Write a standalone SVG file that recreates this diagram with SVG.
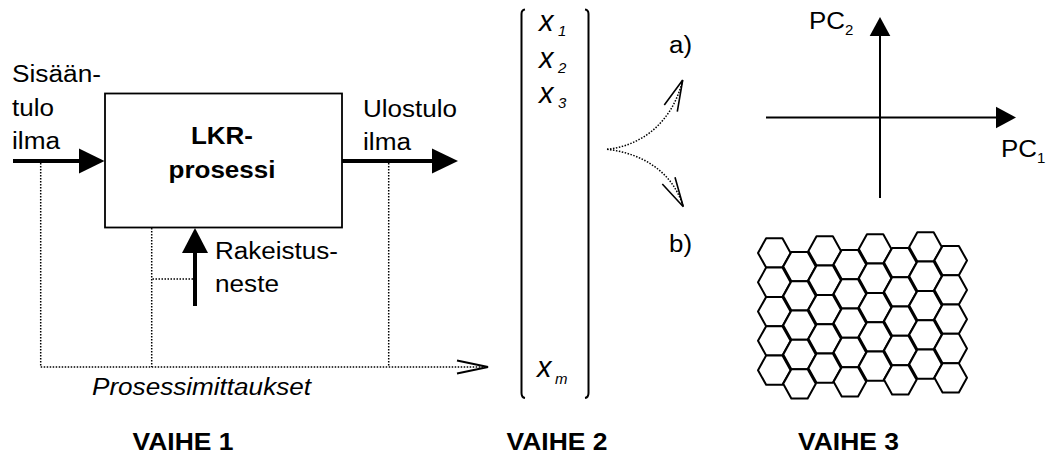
<svg xmlns="http://www.w3.org/2000/svg" xmlns:xlink="http://www.w3.org/1999/xlink" width="1046" height="459" viewBox="0 0 1046 459">
  <style>
    text { font-family: "Liberation Sans", Arial, sans-serif; fill: #000; }
    .lbl { font-size: 23px; }
    .bold { font-size: 23px; font-weight: bold; }
    .ital { font-style: italic; }
    .var { font-size: 29px; font-style: italic; }
    .sub { font-size: 15px; }
    .thick { stroke: #000; stroke-width: 4; fill: none; }
    .thin { stroke: #000; stroke-width: 2; fill: none; }
    .dot { stroke: #000; stroke-width: 1.5; fill: none; stroke-dasharray: 1.5 1.5; }
    .head { fill: #000; stroke: none; }
    .hex { fill: #fff; stroke: #000; stroke-width: 2; stroke-linejoin: round; }
  </style>
  <defs>
    <polygon id="hex" class="hex" points="-16.3,0 -8.15,-14.65 8.15,-14.65 16.3,0 8.15,14.65 -8.15,14.65"/>
  </defs>
  <rect width="1046" height="459" fill="#fff"/>

  <!-- process block -->
  <g id="lkr-process">
    <rect x="105" y="93.5" width="237" height="134" class="thin" style="stroke-width:1.8"/>
    <text class="bold" x="222" y="144" text-anchor="middle" textLength="62" lengthAdjust="spacingAndGlyphs">LKR-</text>
    <text class="bold" x="222" y="178" text-anchor="middle" textLength="107" lengthAdjust="spacingAndGlyphs">prosessi</text>
  </g>

  <!-- inlet air -->
  <g id="inlet">
    <text class="lbl" x="12" y="82" textLength="89" lengthAdjust="spacingAndGlyphs">Sisään-</text>
    <text class="lbl" x="12" y="115.5" textLength="42" lengthAdjust="spacingAndGlyphs">tulo</text>
    <text class="lbl" x="12" y="149" textLength="48" lengthAdjust="spacingAndGlyphs">ilma</text>
  </g>

  <!-- outlet air -->
  <g id="outlet">
    <text class="lbl" x="363" y="116.5" textLength="94" lengthAdjust="spacingAndGlyphs">Ulostulo</text>
    <text class="lbl" x="363" y="149.5" textLength="48" lengthAdjust="spacingAndGlyphs">ilma</text>
  </g>

  <!-- granulation liquid -->
  <g id="liquid">
    <text class="lbl" x="215" y="258.5" textLength="123" lengthAdjust="spacingAndGlyphs">Rakeistus-</text>
    <text class="lbl" x="215" y="291.5" textLength="64" lengthAdjust="spacingAndGlyphs">neste</text>
  </g>

  <!-- measurement caption -->
  <g id="measurements">
    <text class="lbl ital" x="92" y="395" textLength="219" lengthAdjust="spacingAndGlyphs">Prosessimittaukset</text>
  </g>

  <!-- data vector -->
  <g id="vector">
    <path class="thin" d="M525,9.5 Q521.5,10 521.5,14 V393 Q521.5,397.5 525,398"/>
    <path class="thin" d="M585,9.5 Q588.5,10 588.5,14 V393 Q588.5,397.5 585,398"/>
    <text class="var" x="539" y="31">x</text>
    <text class="ital sub" x="558" y="36">1</text>
    <text class="var" x="539" y="68">x</text>
    <text class="ital sub" x="558" y="73">2</text>
    <text class="var" x="539" y="103">x</text>
    <text class="ital sub" x="558" y="108">3</text>
    <text class="var" x="537" y="377">x</text>
    <text class="ital sub" x="555" y="384">m</text>
  </g>

  <!-- method options -->
  <g id="options">
    <text class="lbl" x="669" y="53" textLength="23" lengthAdjust="spacingAndGlyphs">a)</text>
    <text class="lbl" x="669" y="252" textLength="23" lengthAdjust="spacingAndGlyphs">b)</text>
  </g>

  <!-- principal component axes -->
  <g id="pca">
    <line class="thin" x1="880" y1="198" x2="880" y2="34"/>
    <polygon class="head" points="880,17 869.7,36 890.3,36"/>
    <line class="thin" x1="766" y1="117.5" x2="998" y2="117.5"/>
    <polygon class="head" points="1016,117.5 996,106.7 996,128.3"/>
    <text class="lbl" x="809" y="29" textLength="36" lengthAdjust="spacingAndGlyphs">PC</text>
    <text class="sub" x="845" y="35">2</text>
    <text class="lbl" x="1001" y="157" textLength="36" lengthAdjust="spacingAndGlyphs">PC</text>
    <text class="sub" x="1037" y="163">1</text>
  </g>

  <!-- self-organising map grid -->
  <g id="som">
    <use xlink:href="#hex" x="774.3" y="252.95"/>
    <use xlink:href="#hex" x="774.3" y="282.25"/>
    <use xlink:href="#hex" x="774.3" y="311.55"/>
    <use xlink:href="#hex" x="774.3" y="340.85"/>
    <use xlink:href="#hex" x="774.3" y="370.15"/>
    <use xlink:href="#hex" x="799.5" y="266.6"/>
    <use xlink:href="#hex" x="799.5" y="295.9"/>
    <use xlink:href="#hex" x="799.5" y="325.2"/>
    <use xlink:href="#hex" x="799.5" y="354.5"/>
    <use xlink:href="#hex" x="799.5" y="383.8"/>
    <use xlink:href="#hex" x="824.7" y="250.95"/>
    <use xlink:href="#hex" x="824.7" y="280.25"/>
    <use xlink:href="#hex" x="824.7" y="309.55"/>
    <use xlink:href="#hex" x="824.7" y="338.85"/>
    <use xlink:href="#hex" x="824.7" y="368.15"/>
    <use xlink:href="#hex" x="849.9" y="264.6"/>
    <use xlink:href="#hex" x="849.9" y="293.9"/>
    <use xlink:href="#hex" x="849.9" y="323.2"/>
    <use xlink:href="#hex" x="849.9" y="352.5"/>
    <use xlink:href="#hex" x="849.9" y="381.8"/>
    <use xlink:href="#hex" x="875.1" y="248.95"/>
    <use xlink:href="#hex" x="875.1" y="278.25"/>
    <use xlink:href="#hex" x="875.1" y="307.55"/>
    <use xlink:href="#hex" x="875.1" y="336.85"/>
    <use xlink:href="#hex" x="875.1" y="366.15"/>
    <use xlink:href="#hex" x="900.3" y="262.6"/>
    <use xlink:href="#hex" x="900.3" y="291.9"/>
    <use xlink:href="#hex" x="900.3" y="321.2"/>
    <use xlink:href="#hex" x="900.3" y="350.5"/>
    <use xlink:href="#hex" x="900.3" y="379.8"/>
    <use xlink:href="#hex" x="925.5" y="246.95"/>
    <use xlink:href="#hex" x="925.5" y="276.25"/>
    <use xlink:href="#hex" x="925.5" y="305.55"/>
    <use xlink:href="#hex" x="925.5" y="334.85"/>
    <use xlink:href="#hex" x="925.5" y="364.15"/>
    <use xlink:href="#hex" x="950.7" y="260.6"/>
    <use xlink:href="#hex" x="950.7" y="289.9"/>
    <use xlink:href="#hex" x="950.7" y="319.2"/>
    <use xlink:href="#hex" x="950.7" y="348.5"/>
    <use xlink:href="#hex" x="950.7" y="377.8"/>
  </g>

  <!-- phase captions -->
  <g id="phases">
    <text class="bold" x="183" y="450" text-anchor="middle" textLength="101" lengthAdjust="spacingAndGlyphs">VAIHE 1</text>
    <text class="bold" x="557" y="450" text-anchor="middle" textLength="101" lengthAdjust="spacingAndGlyphs">VAIHE 2</text>
    <text class="bold" x="848.5" y="450" text-anchor="middle" textLength="101" lengthAdjust="spacingAndGlyphs">VAIHE 3</text>
  </g>

  <!-- connectors -->
  <g id="connectors">
    <!-- material flows -->
    <line class="thick" x1="13" y1="161" x2="81" y2="161"/>
    <polygon class="head" points="104.5,161 79,148.5 79,173.5"/>
    <line class="thick" x1="342" y1="161" x2="434" y2="161"/>
    <polygon class="head" points="458,161 432,148.5 432,173.5"/>
    <line class="thick" x1="195" y1="306" x2="195" y2="250"/>
    <polygon class="head" points="195,228 182,253 208,253"/>
    <!-- measurement taps -->
    <path class="dot" d="M40.7,163 V367"/>
    <path class="dot" d="M151.7,228 V367"/>
    <path class="dot" d="M152.5,279 H193"/>
    <path class="dot" d="M388.7,163 V367"/>
    <path class="dot" d="M40.7,367 H486"/>
    <polyline class="thin" points="457,360.5 488,367 457,373.5"/>
    <!-- to analysis methods -->
    <path class="dot" d="M607,149.3 C640,146 672,124 682.7,80"/>
    <path class="thin" style="stroke-width:1.6" d="M664.3,105 L682.7,80 L677.3,111.7"/>
    <path class="dot" d="M607,149.3 C640,153 672,170 683.3,206.7"/>
    <path class="thin" style="stroke-width:1.6" d="M662.3,184 L683.3,206.7 L675,177.3"/>
  </g>
</svg>
